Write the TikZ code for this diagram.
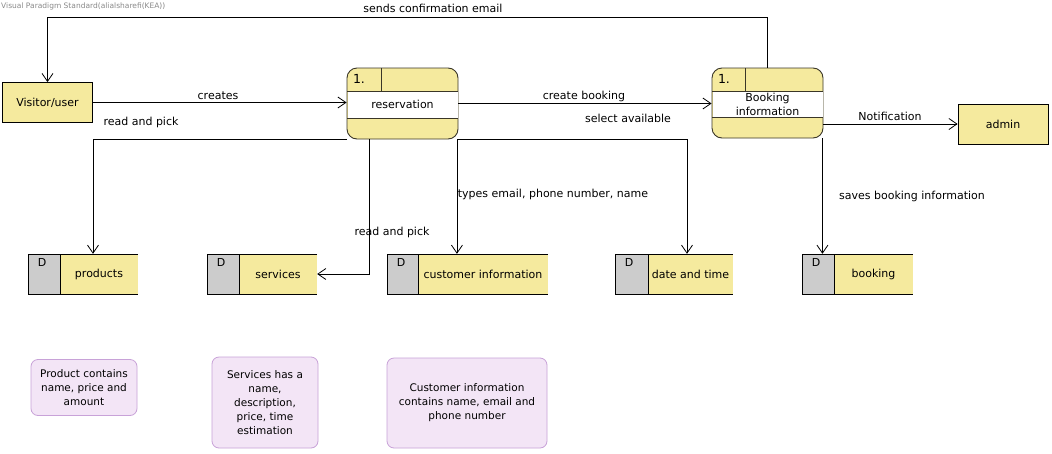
\documentclass[tikz,border=0pt]{standalone}
\usepackage{fontspec}
\setmainfont{DejaVu Sans}
\usetikzlibrary{arrows.meta,calc}
\definecolor{dfdyellow}{HTML}{F5EA9E}
\definecolor{dgray}{HTML}{CCCCCC}
\definecolor{notefill}{HTML}{F3E5F6}
\definecolor{notedraw}{HTML}{C8A2D8}
\definecolor{pborder}{HTML}{3A3628}
\definecolor{wmark}{HTML}{8A8A8A}
\newcommand\dstore[5]{%
  \fill[dgray] (#2,254) rectangle (#3,294);
  \fill[dfdyellow] (#3,254) rectangle (#4,294);
  \draw[edge] (#4,254) -- (#2,254) -- (#2,294) -- (#4,294) (#3,254) -- (#3,294);
  \node[inner sep=0] at (#2+14,262) {D};
  \node[inner sep=0, minimum width={(#4-#2)*1pt}, minimum height=40pt] (#1) at ({(#2+#4)/2},274) {};
  \node[txt] at ({(#3+#4)/2},274.5) {#5};
}
\begin{document}
\begin{tikzpicture}[x=1pt,y=-1pt,
  font=\fontsize{11}{13}\selectfont,
  edge/.style={line width=0.8pt, draw=black},
  arr/.style={edge, -{Straight Barb[length=8pt,width=11pt]}},
  txt/.style={inner sep=0, align=center},
  ext/.style={draw=black, line width=0.8pt, fill=dfdyellow, minimum width=90pt, minimum height=40pt, inner sep=0},
  proc/.style={draw=pborder, line width=0.9pt, fill=dfdyellow, rounded corners=10pt, minimum width=111pt, minimum height=71pt, inner sep=0},
  note/.style={draw=notedraw, line width=0.8pt, fill=notefill, rounded corners=7pt, inner sep=0, align=center, font=\fontsize{10.5}{14}\selectfont}
]
\useasboundingbox (0,0) rectangle (1052,453);
\fill[white] (0,0) rectangle (1052,453);

\node[anchor=west, inner sep=0, text=wmark, font=\fontsize{7.5}{8}\selectfont] (wm) at (1,6.5) {Visual Paradigm Standard(alialsharefi(KEA))};

% external entities
\node[ext] (visitor) at (47.5,102.5) {Visitor/user};
\node[ext] (admin) at (1003,124) {admin};

% process: reservation
\node[proc] (res) at (402.5,103.5) {};
\fill[white] (347.5,91) rectangle (457.5,118);
\draw[draw=pborder, line width=0.8pt] (347,91) -- (458,91) (347,118) -- (458,118) (381,68) -- (381,91);
\node[txt, font=\fontsize{12.5}{14}\selectfont] (resnum) at (359,79) {1.};
\node[txt] (resname) at (402.5,104.5) {reservation};

% process: booking information
\node[proc, minimum height=70pt] (binfo) at (767.5,103) {};
\fill[white] (712.5,91) rectangle (822.5,117);
\draw[draw=pborder, line width=0.8pt] (712,91) -- (823,91) (712,117) -- (823,117) (745,68) -- (745,91);
\node[txt, font=\fontsize{12.5}{14}\selectfont] (binum) at (724,79) {1.};
\node[txt, font=\fontsize{11}{14}\selectfont] (biname) at (767.5,104) {Booking\\information};

% data stores
\dstore{products}{28}{60}{138}{products}
\dstore{services}{207}{239}{317}{services}
\dstore{cust}{387}{418}{548}{customer information}
\dstore{datetime}{615}{648}{733}{date and time}
\dstore{booking}{802}{834}{913}{booking}

% notes
\node[note, minimum width=106pt, minimum height=56pt] (n1) at (84,387.5) {Product contains\\name, price and\\amount};
\node[note, minimum width=106pt, minimum height=91pt] (n2) at (265,402.5) {Services has a\\name,\\description,\\price, time\\estimation};
\node[note, minimum width=160pt, minimum height=90pt] (n3) at (467,403) {Customer information\\contains name, email and\\phone number};

% connectors
\draw[arr] (binfo.north) -- ++(0,-50) -| (visitor.north);
\draw[arr] (visitor.east) -- (visitor.east -| res.west);
\draw[arr] (res.east) -- (res.east -| binfo.west);
\draw[arr] (binfo.east |- admin.west) -- (admin.west);
\draw[arr] (res.south west) -| ([xshift=10pt]products.north);
\draw[arr] ([xshift=23pt]res.south west) |- (services.east);
\draw[arr] ([xshift=-1.5pt]res.south east) -- ([xshift=-1.5pt]res.south east |- cust.north);
\draw[arr] (res.south east) -| ([xshift=13pt]datetime.north);
\draw[arr] ([xshift=-1pt]binfo.south east) -- ([xshift=-1pt]binfo.south east |- booking.north);

% connector labels
\node[txt] (l1) at (433,8.5) {sends confirmation email};
\node[txt] (l2) at (218,96) {creates};
\node[txt] (l3) at (141,122) {read and pick};
\node[txt] (l4) at (584,96) {create booking};
\node[txt] (l5) at (628,118) {select available};
\node[txt] (l6) at (890,116) {Notification};
\node[txt] (l7) at (553,194) {types email, phone number, name};
\node[txt] (l8) at (392,232) {read and pick};
\node[txt] (l9) at (912,196) {saves booking information};
\end{tikzpicture}
\end{document}
